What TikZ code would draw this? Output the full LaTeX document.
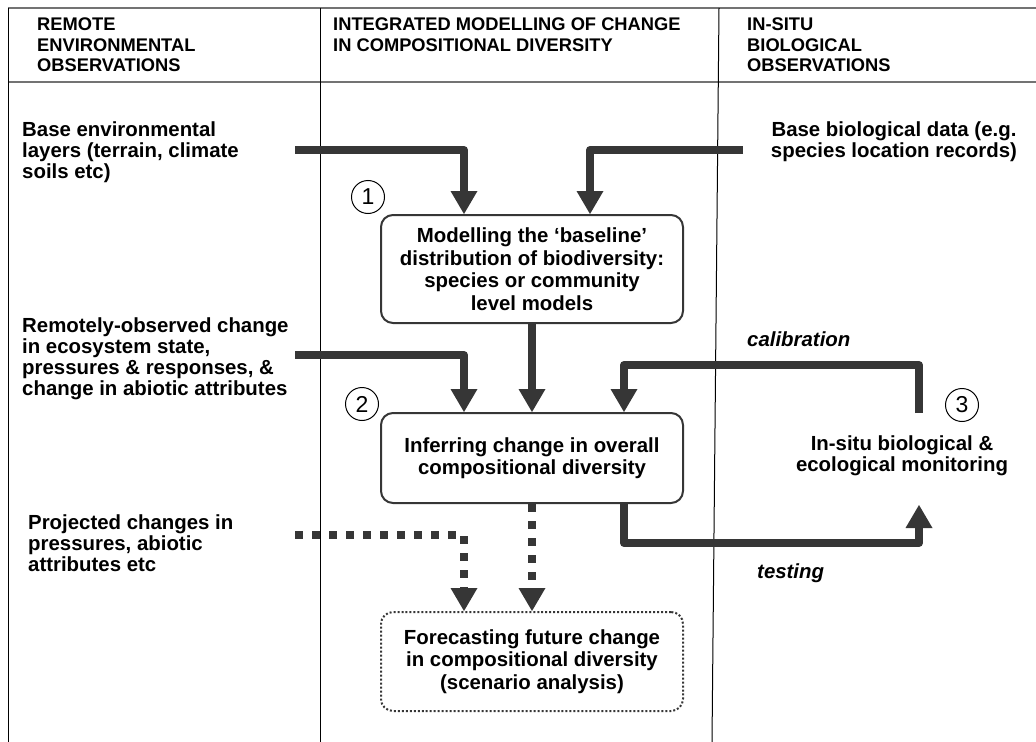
\documentclass[tikz,border=0pt]{standalone}
\usepackage{fontspec}
\setmainfont{Liberation Sans}
\usetikzlibrary{arrows.meta}
\definecolor{flowgray}{HTML}{363636}
\newcommand{\txtfont}{\fontsize{20.4bp}{21bp}\selectfont\bfseries}
\newcommand{\boxfont}{\fontsize{20.4bp}{22.5bp}\selectfont\bfseries}
\newcommand{\hdfont}{\fontsize{18.3bp}{20.5bp}\selectfont\bfseries}
\newcommand{\numfont}{\fontsize{23bp}{23bp}\selectfont}

\begin{document}
\begin{tikzpicture}[x=1bp,y=-1bp,
  src/.style={font=\txtfont, align=left, inner sep=0pt, anchor=north west},
  head/.style={font=\hdfont, align=left, inner sep=0pt, anchor=north west},
  stagebox/.style={draw=flowgray, line width=2bp, rounded corners=12bp, minimum width=302bp, align=center, font=\boxfont, inner sep=0pt},
  stepnum/.style={draw, circle, line width=1bp, minimum size=33bp, inner sep=0pt, font=\numfont},
  flow/.style={draw=flowgray, line width=8bp, line join=round, -{Triangle[length=23bp,width=27bp,line width=0pt]}},
  dotflow/.style={flow, dash pattern=on 8bp off 9bp},
  flowlabel/.style={font=\txtfont\itshape, inner sep=0pt, anchor=base west}]

\def \boxh {108bp}
\def \shiftl {-68bp}
\def \shiftr {92bp}

\useasboundingbox (0,0) rectangle (1036,742);

\draw [black!55, line width=1.2bp] (8,8) -- (1036,8);
\draw [black!55, line width=1.2bp] (8,82) -- (1036,82);
\draw [line width=1bp] (8,8) -- (8,742);
\draw [line width=1bp] (320,8) -- (320,742);
\draw [line width=1bp] (719,8) -- (712,742);

\node [head] (hremote) at (37,18) {REMOTE\\ENVIRONMENTAL\\OBSERVATIONS};
\node [head] (hmodel) at (333,18) {INTEGRATED MODELLING OF CHANGE\\IN COMPOSITIONAL DIVERSITY};
\node [head] (hinsitu) at (747,18) {IN-SITU\\BIOLOGICAL\\OBSERVATIONS};

\node [src] (envlayers) at (22,122) {Base environmental\\layers (terrain, climate\\soils etc)};
\node [src] (remotechange) at (22,318) {Remotely-observed change\\in ecosystem state,\\pressures \& responses, \&\\change in abiotic attributes};
\node [src] (projected) at (28,515) {Projected changes in\\pressures, abiotic\\attributes etc};
\node [src, align=center, anchor=north] (biodata) at (894,122) {Base biological data (e.g.\\species location records)};
\node [src, align=center, anchor=north] (insitu) at (902,436) {In-situ biological \&\\ecological monitoring};

\node [stagebox, minimum height=\boxh] (model) at (532,269) {Modelling the ‘baseline’\\distribution of biodiversity:\\species or community\\level models};
\node [stagebox, minimum height=90bp] (infer) at (532,458) {Inferring change in overall\\compositional diversity};
\node [stagebox, dotted, minimum height=99bp] (forecast) at (532,661.5) {Forecasting future change\\in compositional diversity\\(scenario analysis)};

\node [stepnum] (one) at (368,197) {1};
\node [stepnum] (two) at (362,404) {2};
\node [stepnum] (three) at (962,405) {3};

\coordinate (envstart) at (295,150);
\coordinate (biostart) at (743,150);
\coordinate (remstart) at (295,355);
\coordinate (projstart) at (295,535);
\coordinate (calstart) at (919,413);
\coordinate (calturn) at (919,365);
\coordinate (testturn) at (919,543);
\coordinate (testend) at (919,505);

\draw [flow] (envstart) -| ([xshift=\shiftl]model.north);
\draw [flow] (biostart) -| ([xshift=58bp]model.north);
\draw [flow] (model) -- (infer);
\draw [flow] (remstart) -| ([xshift=\shiftl]infer.north);
\draw [flow] (calstart) -- (calturn) -| ([xshift=\shiftr]infer.north);
\draw [flow] ([xshift=\shiftr]infer.south) |- (testturn) -- (testend);
\draw [dotflow] (projstart) -| ([xshift=\shiftl]forecast.north);
\draw [dotflow] (infer) -- (forecast);

\node [flowlabel] (callabel) at (747,346) {calibration};
\node [flowlabel] (testlabel) at (757,578) {testing};
\end{tikzpicture}
\end{document}
